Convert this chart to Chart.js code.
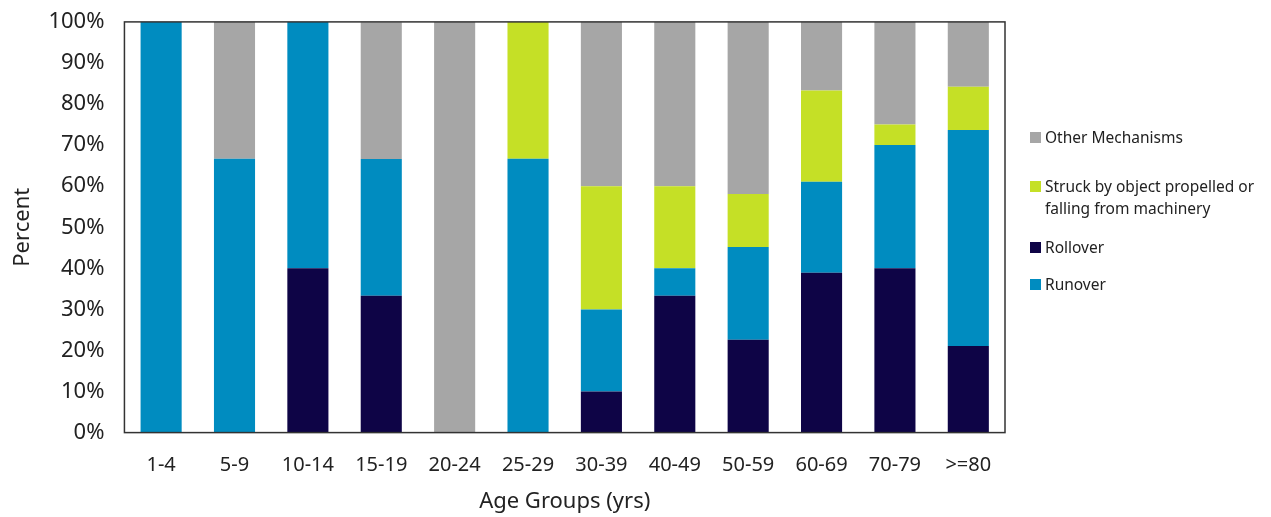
<!DOCTYPE html>
<html>
<head>
<meta charset="utf-8">
<script src="https://cdn.jsdelivr.net/npm/chart.js@4"></script>
<style>
  body { margin: 0; background: #fff; font-family: "Noto Sans", sans-serif; }
  #wrap { position: relative; width: 1271px; height: 517px; }
  #legend { position: absolute; left: 1030px; top: 0; width: 241px; font-size: 15.5px; color: #222; }
  .item { position: absolute; left: 0; display: flex; align-items: flex-start; line-height: 22px; }
  .box { width: 11px; height: 11px; margin: 6px 4px 0 0; flex: none; }
</style>
</head>
<body>
<div id="wrap">
  <canvas id="chart" width="1271" height="517"></canvas>
  <div id="legend"></div>
</div>
<script>
// age groups
let ageGroups = ['1-4', '5-9', '10-14', '15-19', '20-24', '25-29', '30-39', '40-49', '50-59', '60-69', '70-79', '>=80'];

// percent of deaths by mechanism
let rollover = [0, 0, 40, 33.3, 0, 0, 10, 33.3, 22.6, 38.9, 40, 21.1];
let runover  = [100, 66.7, 60, 33.3, 0, 66.7, 20, 6.7, 22.6, 22.2, 30, 52.6];
let struck   = [0, 0, 0, 0, 0, 33.3, 30, 20, 12.9, 22.2, 5, 10.5];
let other    = [0, 33.3, 0, 33.3, 100, 0, 40, 40, 41.9, 16.7, 25, 15.8];

let yTicks = [0, 10, 20, 30, 40, 50, 60, 70, 80, 90, 100];

let colors = {
    rollover: '#0e0446',
    runover: '#008cc0',
    struck: '#c5e026',
    other: '#a6a6a6'
};

// legend (html so the long label can wrap)
let legendItems = [
    { text: 'Other Mechanisms', color: colors.other, top: 126 },
    { text: 'Struck by object propelled or<br>falling from machinery', color: colors.struck, top: 175 },
    { text: 'Rollover', color: colors.rollover, top: 236 },
    { text: 'Runover', color: colors.runover, top: 273 }
];
let legend = document.getElementById('legend');
legendItems.forEach(item => {
    let div = document.createElement('div');
    div.className = 'item';
    div.style.top = item.top + 'px';
    div.innerHTML = '<span class="box" style="background:' + item.color + '"></span><span>' + item.text + '</span>';
    legend.appendChild(div);
});

// box around the plot area
let frame = {
    id: 'frame',
    afterDraw(chart) {
        let a = chart.chartArea;
        let ctx = chart.ctx;
        ctx.save();
        ctx.strokeStyle = '#333';
        ctx.lineWidth = 1.5;
        ctx.strokeRect(a.left, a.top, a.right - a.left, a.bottom - a.top);
        ctx.restore();
    }
};

let ctx = document.getElementById('chart').getContext('2d');
let chart = new Chart(ctx, {
    type: 'bar',
    data: {
        labels: ageGroups,
        datasets: [
            { label: 'Rollover', data: rollover, backgroundColor: colors.rollover },
            { label: 'Runover', data: runover, backgroundColor: colors.runover },
            { label: 'Struck by object propelled or falling from machinery', data: struck, backgroundColor: colors.struck },
            { label: 'Other Mechanisms', data: other, backgroundColor: colors.other }
        ]
    },
    options: {
        responsive: false,
        animation: false,
        datasets: {
            bar: { categoryPercentage: 1, barPercentage: 0.56 }
        },
        layout: {
            padding: { left: 0, right: 266, top: -16, bottom: 0 }
        },
        plugins: {
            legend: { display: false },
            tooltip: { enabled: false }
        },
        scales: {
            x: {
                stacked: true,
                grid: { display: false },
                border: { display: false },
                ticks: {
                    color: '#222',
                    padding: 13,
                    font: { family: 'Noto Sans', size: 20 }
                },
                title: {
                    display: true,
                    text: 'Age Groups (yrs)',
                    color: '#222',
                    padding: { top: -2, bottom: 2 },
                    font: { family: 'Noto Sans', size: 22 }
                }
            },
            y: {
                stacked: true,
                min: 0,
                max: 100,
                grid: { display: false },
                border: { display: false },
                afterBuildTicks: axis => {
                    axis.ticks = yTicks.map(v => ({ value: v }));
                },
                ticks: {
                    color: '#222',
                    padding: 12,
                    font: { family: 'Noto Sans', size: 22, lineHeight: 0.9 },
                    callback: v => v + '%'
                },
                title: {
                    display: true,
                    text: 'Percent',
                    color: '#222',
                    padding: { top: 10, bottom: 0 },
                    font: { family: 'Noto Sans', size: 22 }
                }
            }
        }
    },
    plugins: [frame]
});
</script>
</body>
</html>
